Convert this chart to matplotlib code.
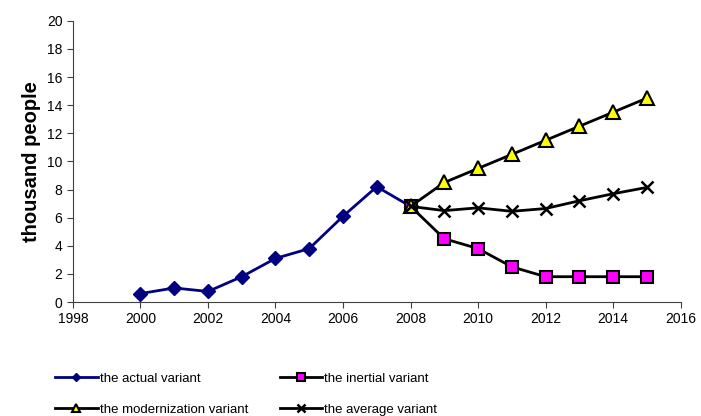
import numpy as np
import matplotlib
matplotlib.use('Agg')
import matplotlib.pyplot as plt

# data
years_actual = [2000, 2001, 2002, 2003, 2004, 2005, 2006, 2007, 2008]
actual = [0.6, 1.0, 0.75, 1.8, 3.1, 3.8, 6.1, 8.2, 6.8]

years_fc = [2008, 2009, 2010, 2011, 2012, 2013, 2014, 2015]
inertial = [6.8, 4.5, 3.8, 2.5, 1.8, 1.8, 1.8, 1.8]
modernization = [6.8, 8.5, 9.5, 10.5, 11.5, 12.5, 13.5, 14.5]
average = [6.8, 6.5, 6.7, 6.45, 6.65, 7.2, 7.7, 8.15]

plt.rcParams['font.family'] = ['Liberation Sans', 'DejaVu Sans']

fig = plt.figure(figsize=(7.01, 4.16), dpi=100)
ax = fig.add_axes([0.104, 0.274, 0.867, 0.676])

ax.plot(years_actual, actual, c='#000080', lw=2, marker='D', ms=7.5,
        mfc='#000080', mec='#000080', label='the actual variant', zorder=3)
ax.plot(years_fc, inertial, c='black', lw=2, marker='s', ms=9,
        mfc='#ff00ff', mec='black', mew=1.5, label='the inertial variant', zorder=3)
ax.plot(years_fc, modernization, c='black', lw=2, marker='^', ms=10,
        mfc='#ffff00', mec='black', mew=1.5, label='the modernization variant', zorder=3)
ax.plot(years_fc, average, c='black', lw=2, marker='x', ms=9,
        mew=1.8, label='the average variant', zorder=3)

ax.set_xlim(1998, 2016)
ax.set_ylim(0, 20)
ax.set_xticks(np.arange(1998, 2017, 2))
ax.set_yticks(np.arange(0, 21, 2))
ax.tick_params(labelsize=10, direction='out', length=4, color='#404040')
for s in ['top', 'right']:
    ax.spines[s].set_visible(False)
for s in ['left', 'bottom']:
    ax.spines[s].set_color('#404040')
ax.set_ylabel('thousand people', fontsize=14.5, fontweight='bold', labelpad=4)

h, l = ax.get_legend_handles_labels()
order = [0, 2, 1, 3]
fig.legend([h[i] for i in order], [l[i] for i in order], ncol=2,
           loc='lower left', bbox_to_anchor=(0.062, -0.028), frameon=False,
           fontsize=9.5, handlelength=3.2, markerscale=0.6,
           columnspacing=2.4, labelspacing=1.4, handletextpad=0.15)

fig.savefig('out.png', dpi=100)
